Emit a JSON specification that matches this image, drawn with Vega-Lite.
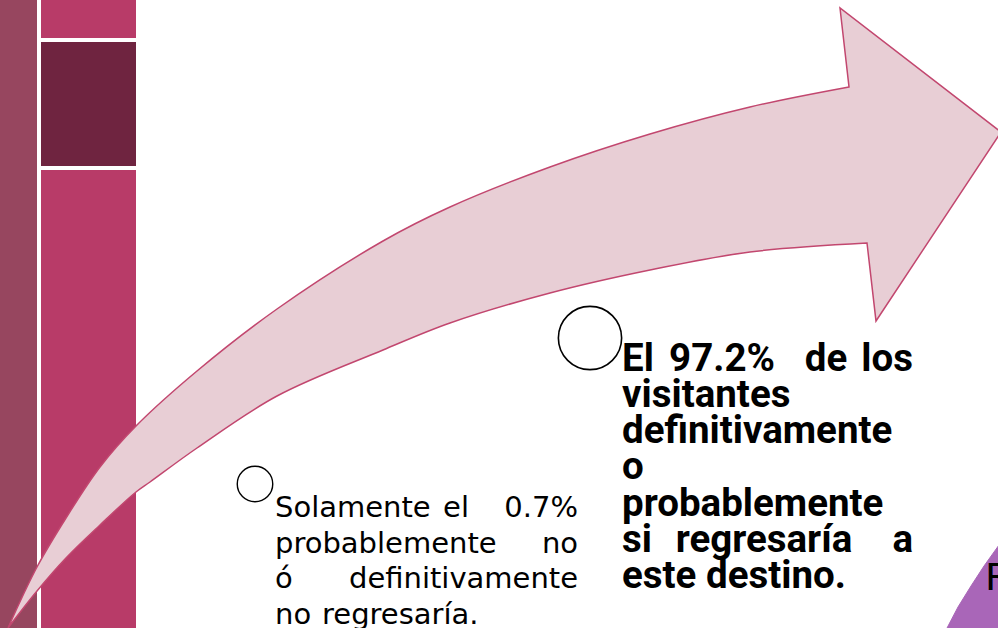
{
  "$schema": "https://vega.github.io/schema/vega-lite/v6.json",
  "autosize": {"type": "none"},
  "width": 998,
  "height": 628,
  "padding": 0,
  "background": "white",
  "config": {"view": {"stroke": null}},
  "datasets": {
    "rects": [
      {"part": "col1", "x": 0, "x2": 37, "y": 0, "y2": 628},
      {"part": "pink", "x": 41, "x2": 136, "y": 0, "y2": 38},
      {"part": "dark", "x": 41, "x2": 136, "y": 42, "y2": 166},
      {"part": "pink", "x": 41, "x2": 136, "y": 170, "y2": 628}
    ],
    "arrow": [
      {"i": 0, "x": 8, "y": 628},
      {"i": 1, "x": 37, "y": 567},
      {"i": 2, "x": 66, "y": 518},
      {"i": 3, "x": 100, "y": 467},
      {"i": 4, "x": 136, "y": 426},
      {"i": 5, "x": 197, "y": 371},
      {"i": 6, "x": 277, "y": 309},
      {"i": 7, "x": 383, "y": 241},
      {"i": 8, "x": 450, "y": 207},
      {"i": 9, "x": 550, "y": 167},
      {"i": 10, "x": 650, "y": 134},
      {"i": 11, "x": 750, "y": 107},
      {"i": 12, "x": 849, "y": 87},
      {"i": 13, "x": 849, "y": 87},
      {"i": 14, "x": 840, "y": 8},
      {"i": 15, "x": 840, "y": 8},
      {"i": 16, "x": 1001, "y": 132},
      {"i": 17, "x": 1001, "y": 132},
      {"i": 18, "x": 876, "y": 321},
      {"i": 19, "x": 876, "y": 321},
      {"i": 20, "x": 867, "y": 243},
      {"i": 21, "x": 867, "y": 243},
      {"i": 22, "x": 750, "y": 252},
      {"i": 23, "x": 650, "y": 270},
      {"i": 24, "x": 550, "y": 293},
      {"i": 25, "x": 450, "y": 323},
      {"i": 26, "x": 383, "y": 350},
      {"i": 27, "x": 277, "y": 396},
      {"i": 28, "x": 197, "y": 448},
      {"i": 29, "x": 150, "y": 482},
      {"i": 30, "x": 136, "y": 492},
      {"i": 31, "x": 100, "y": 525},
      {"i": 32, "x": 66, "y": 558},
      {"i": 33, "x": 37, "y": 591},
      {"i": 34, "x": 8, "y": 628}
    ],
    "purple": [
      {"i": 0, "x": 946, "y": 630},
      {"i": 1, "x": 958, "y": 607},
      {"i": 2, "x": 971, "y": 586},
      {"i": 3, "x": 984, "y": 566},
      {"i": 4, "x": 999, "y": 545},
      {"i": 5, "x": 999, "y": 630}
    ],
    "circles": [
      {"name": "big", "x": 590, "y": 338},
      {"name": "small", "x": 255, "y": 484}
    ],
    "words": [
      {"block": "normal", "anchor": "start", "text": "Solamente", "x": 275, "y": 517},
      {"block": "normal", "anchor": "middle", "text": "el", "x": 456, "y": 517},
      {"block": "normal", "anchor": "end", "text": "0.7%", "x": 578, "y": 517},
      {"block": "normal", "anchor": "start", "text": "probablemente", "x": 275, "y": 552.5},
      {"block": "normal", "anchor": "end", "text": "no", "x": 578, "y": 552.5},
      {"block": "normal", "anchor": "start", "text": "ó", "x": 275, "y": 588},
      {"block": "normal", "anchor": "end", "text": "definitivamente", "x": 578, "y": 588},
      {"block": "normal", "anchor": "start", "text": "no", "x": 275, "y": 623.5},
      {"block": "normal", "anchor": "start", "text": "regresaría.", "x": 322, "y": 623.5},
      {"block": "bold", "anchor": "start", "text": "El", "x": 622, "y": 371},
      {"block": "bold", "anchor": "middle", "text": "97.2%", "x": 722, "y": 371},
      {"block": "bold", "anchor": "middle", "text": "de", "x": 826, "y": 371},
      {"block": "bold", "anchor": "end", "text": "los", "x": 913, "y": 371},
      {"block": "bold", "anchor": "start", "text": "visitantes", "x": 622, "y": 407},
      {"block": "bold", "anchor": "start", "text": "definitivamente", "x": 622, "y": 443},
      {"block": "bold", "anchor": "start", "text": "o", "x": 622, "y": 479},
      {"block": "bold", "anchor": "start", "text": "probablemente", "x": 622, "y": 516},
      {"block": "bold", "anchor": "start", "text": "si", "x": 622, "y": 552},
      {"block": "bold", "anchor": "middle", "text": "regresaría", "x": 764, "y": 552},
      {"block": "bold", "anchor": "end", "text": "a", "x": 913, "y": 552},
      {"block": "bold", "anchor": "start", "text": "este destino.", "x": 622, "y": 588},
      {"block": "r", "anchor": "start", "text": "R", "x": 985, "y": 590}
    ]
  },
  "encoding": {
    "x": {"field": "x", "type": "quantitative", "scale": {"domain": [0, 998], "nice": false, "zero": false}, "axis": null},
    "y": {"field": "y", "type": "quantitative", "scale": {"domain": [0, 628], "nice": false, "zero": false, "reverse": true}, "axis": null}
  },
  "layer": [
    {
      "data": {"name": "rects"},
      "mark": {"type": "rect"},
      "encoding": {
        "x2": {"field": "x2"},
        "y2": {"field": "y2"},
        "color": {"field": "part", "type": "nominal", "scale": {"domain": ["col1", "pink", "dark"], "range": ["#97465F", "#B83B68", "#6F2440"]}, "legend": null}
      }
    },
    {
      "data": {"name": "arrow"},
      "mark": {"type": "line", "fill": "#E8CED5", "stroke": "#C2476F", "strokeWidth": 1.5, "interpolate": "catmull-rom", "clip": true},
      "encoding": {"order": {"field": "i", "type": "quantitative"}}
    },
    {
      "data": {"name": "purple"},
      "mark": {"type": "line", "fill": "#A966B8", "stroke": "#A966B8", "strokeWidth": 1, "interpolate": "linear-closed", "clip": true},
      "encoding": {"order": {"field": "i", "type": "quantitative"}}
    },
    {
      "data": {"name": "circles"},
      "transform": [{"filter": "datum.name === 'big'"}],
      "mark": {"type": "point", "shape": "circle", "size": 4000, "filled": false, "stroke": "black", "strokeWidth": 1.6, "opacity": 1}
    },
    {
      "data": {"name": "circles"},
      "transform": [{"filter": "datum.name === 'small'"}],
      "mark": {"type": "point", "shape": "circle", "size": 1260, "filled": false, "stroke": "black", "strokeWidth": 1.4, "opacity": 1}
    },
    {
      "data": {"name": "words"},
      "transform": [{"filter": "datum.block === 'normal' && datum.anchor === 'start'"}],
      "mark": {"type": "text", "align": "left", "baseline": "alphabetic", "font": "DejaVu Sans", "fontSize": 29, "color": "black"},
      "encoding": {"text": {"field": "text"}}
    },
    {
      "data": {"name": "words"},
      "transform": [{"filter": "datum.block === 'normal' && datum.anchor === 'middle'"}],
      "mark": {"type": "text", "align": "center", "baseline": "alphabetic", "font": "DejaVu Sans", "fontSize": 29, "color": "black"},
      "encoding": {"text": {"field": "text"}}
    },
    {
      "data": {"name": "words"},
      "transform": [{"filter": "datum.block === 'normal' && datum.anchor === 'end'"}],
      "mark": {"type": "text", "align": "right", "baseline": "alphabetic", "font": "DejaVu Sans", "fontSize": 29, "color": "black"},
      "encoding": {"text": {"field": "text"}}
    },
    {
      "data": {"name": "words"},
      "transform": [{"filter": "datum.block === 'bold' && datum.anchor === 'start'"}],
      "mark": {"type": "text", "align": "left", "baseline": "alphabetic", "font": "Roboto", "fontSize": 38.5, "fontWeight": "bold", "color": "black"},
      "encoding": {"text": {"field": "text"}}
    },
    {
      "data": {"name": "words"},
      "transform": [{"filter": "datum.block === 'bold' && datum.anchor === 'middle'"}],
      "mark": {"type": "text", "align": "center", "baseline": "alphabetic", "font": "Roboto", "fontSize": 38.5, "fontWeight": "bold", "color": "black"},
      "encoding": {"text": {"field": "text"}}
    },
    {
      "data": {"name": "words"},
      "transform": [{"filter": "datum.block === 'bold' && datum.anchor === 'end'"}],
      "mark": {"type": "text", "align": "right", "baseline": "alphabetic", "font": "Roboto", "fontSize": 38.5, "fontWeight": "bold", "color": "black"},
      "encoding": {"text": {"field": "text"}}
    },
    {
      "data": {"name": "words"},
      "transform": [{"filter": "datum.block === 'r'"}],
      "mark": {"type": "text", "align": "left", "baseline": "alphabetic", "font": "DejaVu Sans", "fontSize": 38, "color": "black"},
      "encoding": {"text": {"field": "text"}}
    }
  ]
}
